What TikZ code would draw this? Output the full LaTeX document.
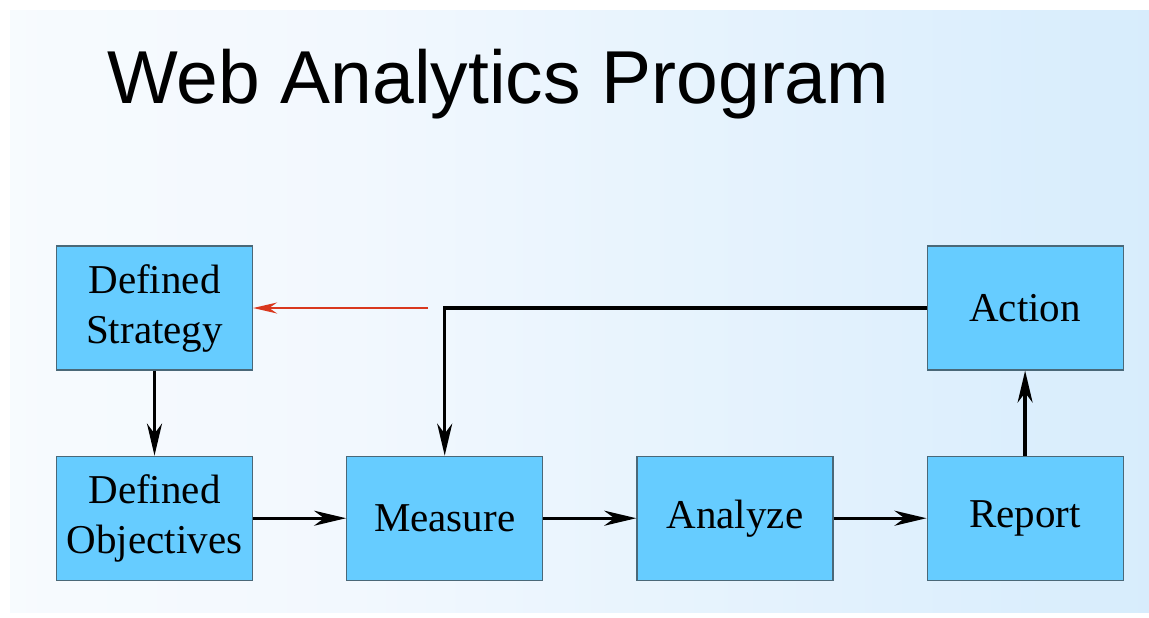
\documentclass[tikz,border=0pt]{standalone}
\usepackage{fontspec}
\setmainfont{Liberation Serif}
\newfontfamily\titlefont{Liberation Sans}
\usepackage{xcolor}
\usetikzlibrary{arrows.meta,positioning}
\definecolor{boxblue}{HTML}{66CCFF}
\definecolor{boxedge}{HTML}{4A6878}
\definecolor{bgmid}{HTML}{F2F8FE}
\definecolor{bgright}{HTML}{C4E4FB}
\definecolor{loopred}{HTML}{D9381E}
\pgfdeclarehorizontalshading{slidebg}{100bp}{color(0bp)=(white); color(40bp)=(bgmid); color(100bp)=(bgright)}

\begin{document}
\begin{tikzpicture}[
    x=0.5pt, y=-0.5pt,
    node distance=42.5pt and 46.5pt,
    stepbox/.style={draw=boxedge, line width=0.6pt, fill=boxblue,
                    minimum width=98pt, minimum height=62pt,
                    inner sep=0pt, align=center,
                    font=\fontsize{20.5}{25}\selectfont},
    arrow/.style={-{Stealth[length=16pt, width=7.5pt, inset=5pt]}, line width=1.7pt},
    redarrow/.style={-{Stealth[length=12pt, width=5.5pt, inset=4pt]}, line width=1.1pt, loopred},
]
\useasboundingbox (0,0) rectangle (1149,617);
\shade[shading=slidebg] (10,10) rectangle (1149,612);

\node[anchor=base west, font=\titlefont\fontsize{37.5}{40}\selectfont]
      (title) at (100,103) {Web Analytics Program};

\node[stepbox] (strat) at (154.5,308) {Defined\\Strategy};
\node[stepbox, below=of strat] (obj) {Defined\\Objectives};
\node[stepbox, right=of obj] (meas) {Measure};
\node[stepbox, right=of meas] (anl) {Analyze};
\node[stepbox, right=of anl] (rep) {Report};
\node[stepbox, above=of rep] (act) {Action};
\coordinate (redstart) at (428,308);

\draw[arrow] (strat) -- (obj);
\draw[arrow] (obj) -- (meas);
\draw[arrow] (meas) -- (anl);
\draw[arrow] (anl) -- (rep);
\draw[arrow] (rep) -- (act);
\draw[arrow] (act.west) -| (meas.north);
\draw[redarrow] (redstart) -- (strat.east);
\end{tikzpicture}
\end{document}
